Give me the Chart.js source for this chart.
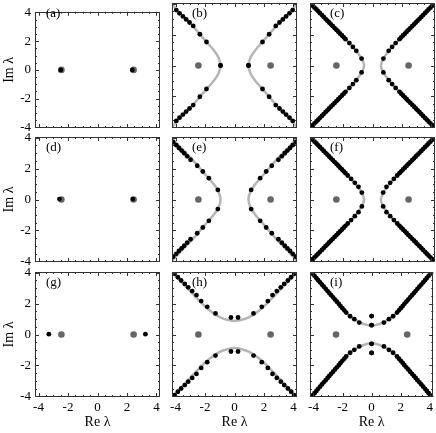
<!DOCTYPE html>
<html lang="en">
<head>
<meta charset="UTF-8">
<title>Spectra (a)-(i)</title>
<style>
  body { margin: 0; background: #fff; }
  #wrap { position: relative; width: 436px; height: 433px; overflow: hidden; }
  #wrap canvas { position: absolute; left: 0; top: 0; }
  .tag { position: absolute; font: 13px "Liberation Serif", serif; line-height: 15px; color: #000; }
</style>
</head>
<body>
<div id="wrap"></div>
<script src="https://cdn.jsdelivr.net/npm/chart.js"></script>
<script>
// grey dots, same in every panel
const greyRe = [-2.45, 2.45];
const greyIm = [0, 0];

// (a), (d), (g): isolated points
const aRe = [-2.5, 2.36];
const aIm = [0, 0];
const dRe = [-2.58, 2.4];
const dIm = [0.03, 0.03];
const gRe = [-3.3, 3.25];
const gIm = [0.02, 0.02];

// the other panels: one quadrant (|Re|, |Im|), the spectrum is symmetric
const bRe = [3.95, 3.73, 3.5, 3.28, 3.05, 2.8, 2.35, 1.9, 0.95];
const bIm = [3.58, 3.37, 3.17, 2.98, 2.78, 2.56, 2.02, 1.52, 0];
const cRe = [4.17, 4.05, 3.93, 3.8, 3.68, 3.56, 3.43, 3.31, 3.19, 3.06, 2.94, 2.82, 2.69, 2.57, 2.44, 2.32, 2.2, 2.07, 1.95, 1.83, 1.57, 1.33, 1.1, 0.74];
const cIm = [3.98, 3.86, 3.74, 3.62, 3.5, 3.38, 3.26, 3.14, 3.02, 2.9, 2.78, 2.66, 2.54, 2.42, 2.3, 2.18, 2.06, 1.94, 1.82, 1.7, 1.45, 1.2, 0.95, 0.45];
const eRe = [4.16, 3.95, 3.77, 3.59, 3.41, 3.21, 2.98, 2.53, 2.15, 1.74, 1.13];
const eIm = [3.7, 3.51, 3.33, 3.16, 2.99, 2.79, 2.57, 2.18, 1.81, 1.38, 0.62];
const fRe = [4.17, 4.05, 3.93, 3.8, 3.68, 3.56, 3.43, 3.31, 3.19, 3.06, 2.94, 2.82, 2.69, 2.57, 2.44, 2.32, 2.2, 2.07, 1.95, 1.83, 1.68, 1.45, 1.2, 0.95, 0.72];
const fIm = [3.98, 3.86, 3.74, 3.62, 3.5, 3.38, 3.26, 3.14, 3.02, 2.9, 2.78, 2.66, 2.54, 2.42, 2.3, 2.18, 2.06, 1.94, 1.82, 1.7, 1.55, 1.33, 1.08, 0.82, 0.45];
const hRe = [4.05, 3.84, 3.62, 3.37, 3.14, 2.87, 2.58, 2.26, 1.85, 1.29, 0.24];
const hIm = [3.92, 3.7, 3.49, 3.27, 3.05, 2.81, 2.55, 2.16, 1.79, 1.36, 1.1];
const iRe = [4.19, 4.06, 3.93, 3.8, 3.68, 3.55, 3.42, 3.29, 3.16, 3.03, 2.91, 2.78, 2.65, 2.52, 2.39, 2.26, 2.14, 2.01, 1.88, 1.75, 1.48, 1.19, 0.85, 0, 0];
const iIm = [4.07, 3.93, 3.79, 3.65, 3.51, 3.37, 3.23, 3.09, 2.95, 2.81, 2.68, 2.54, 2.4, 2.26, 2.12, 1.98, 1.84, 1.7, 1.56, 1.42, 1.18, 0.99, 0.77, 0.6, 1.19];

// grey continuous curves, half branch (|Re|, |Im|)
const curveBRe = [0.95, 1.08, 1.42, 1.88, 2.33, 2.78, 3.28, 3.8, 4.35];
const curveBIm = [0, 0.5, 1, 1.5, 2, 2.5, 3, 3.5, 4.1];
const curveCRe = [0.57, 0.78, 1.15, 1.62, 2.13, 2.65, 3.18, 3.71, 4.3];
const curveCIm = [0, 0.5, 1, 1.5, 2, 2.5, 3, 3.5, 4.1];
const curveHRe = [0, 0.5, 1, 1.5, 2, 2.5, 3, 3.5, 4.3];
const curveHIm = [0.88, 0.95, 1.12, 1.42, 1.82, 2.3, 2.8, 3.3, 4.1];
const curveIRe = [0, 0.5, 1, 1.5, 2, 2.5, 3, 3.5, 4.3];
const curveIIm = [0.57, 0.66, 0.88, 1.2, 1.68, 2.22, 2.78, 3.34, 4.19];

const xTicks = [-4, -2, 0, 2, 4];
const yTicks = [-4, -2, 0, 2, 4];

// layout of the 3x3 grid
const colLeft = [35, 172, 310];
const rowTop = [3, 137, 272];
const W = 125, H = 125;
const tagDx = [11, 20, 20];

function pts(re, im) { return re.map((r, i) => ({x: r, y: im[i]})); }
function mirror(re, im) {
  const out = [];
  re.forEach((r, i) => {
    out.push({x: -r, y: im[i]}, {x: -r, y: -im[i]}, {x: r, y: im[i]}, {x: r, y: -im[i]});
  });
  return out;
}
// branches opening left and right
function sideBranches(re, im) {
  const l = [], r = [];
  for (let i = re.length - 1; i >= 0; i--) { l.push({x: -re[i], y: -im[i]}); r.push({x: re[i], y: -im[i]}); }
  for (let i = 1; i < re.length; i++) { l.push({x: -re[i], y: im[i]}); r.push({x: re[i], y: im[i]}); }
  return [l, r];
}
// branches opening up and down
function upDownBranches(re, im) {
  const u = [], d = [];
  for (let i = re.length - 1; i >= 0; i--) { u.push({x: -re[i], y: im[i]}); d.push({x: -re[i], y: -im[i]}); }
  for (let i = 1; i < re.length; i++) { u.push({x: re[i], y: im[i]}); d.push({x: re[i], y: -im[i]}); }
  return [u, d];
}

const panels = [
  {tag: '(a)', black: pts(aRe, aIm), curves: []},
  {tag: '(b)', black: mirror(bRe, bIm), curves: sideBranches(curveBRe, curveBIm)},
  {tag: '(c)', black: mirror(cRe, cIm), curves: sideBranches(curveCRe, curveCIm)},
  {tag: '(d)', black: pts(dRe, dIm), curves: []},
  {tag: '(e)', black: mirror(eRe, eIm), curves: sideBranches(curveBRe, curveBIm)},
  {tag: '(f)', black: mirror(fRe, fIm), curves: sideBranches(curveCRe, curveCIm)},
  {tag: '(g)', black: pts(gRe, gIm), curves: []},
  {tag: '(h)', black: mirror(hRe, hIm), curves: upDownBranches(curveHRe, curveHIm)},
  {tag: '(i)', black: mirror(iRe, iIm), curves: upDownBranches(curveIRe, curveIIm)}
];

// frame with inward ticks on all four sides
const framePlugin = {
  id: 'frame',
  afterDatasetsDraw(chart) {
    const {ctx, chartArea: a, scales: {x, y}} = chart;
    ctx.save();
    ctx.strokeStyle = '#333';
    ctx.lineWidth = 1;
    ctx.beginPath();
    for (let v = -4; v <= 4; v += 0.5) {
      const len = v % 2 === 0 ? 4 : 2;
      const px = Math.round(x.getPixelForValue(v)) + 0.5;
      ctx.moveTo(px, a.bottom); ctx.lineTo(px, a.bottom - len);
      ctx.moveTo(px, a.top); ctx.lineTo(px, a.top + len);
      const py = Math.round(y.getPixelForValue(v)) + 0.5;
      ctx.moveTo(a.left, py); ctx.lineTo(a.left + len, py);
      ctx.moveTo(a.right, py); ctx.lineTo(a.right - len, py);
    }
    ctx.stroke();
    ctx.strokeRect(Math.round(a.left) + 0.5, Math.round(a.top) + 0.5,
                   Math.round(a.right - a.left) - 1, Math.round(a.bottom - a.top) - 1);
    ctx.restore();
  }
};

const wrap = document.getElementById('wrap');
const font = {family: '"Liberation Serif", serif', size: 13};

panels.forEach((p, k) => {
  const row = Math.floor(k / 3), col = k % 3;
  const canvas = document.createElement('canvas');
  canvas.width = 436; canvas.height = 433;
  wrap.appendChild(canvas);

  const tag = document.createElement('span');
  tag.className = 'tag';
  tag.textContent = p.tag;
  tag.style.left = (colLeft[col] + tagDx[col]) + 'px';
  tag.style.top = (rowTop[row] + 2) + 'px';
  wrap.appendChild(tag);

  const showY = col === 0, showX = row === 2;
  const datasets = [];
  p.curves.forEach(c => datasets.push({
    data: c, showLine: true, pointRadius: 0, borderColor: '#b5b5b5',
    borderWidth: 2.5, tension: 0.4, order: 3
  }));
  datasets.push({data: pts(greyRe, greyIm), pointRadius: 3.3, backgroundColor: '#666', borderWidth: 0, order: 2});
  datasets.push({data: p.black, pointRadius: 2.4, backgroundColor: '#000', borderWidth: 0, order: 1});

  new Chart(canvas.getContext('2d'), {
    type: 'scatter',
    data: {datasets},
    plugins: [framePlugin],
    options: {
      responsive: false,
      animation: false,
      events: [],
      layout: {
        autoPadding: false,
        padding: {
          left: colLeft[col] - (showY ? 35 : 0),
          right: 436 - colLeft[col] - W,
          top: rowTop[row],
          bottom: 433 - rowTop[row] - H - (showX ? 36 : 0)
        }
      },
      plugins: {legend: {display: false}, tooltip: {enabled: false}},
      scales: {
        x: {
          type: 'linear', min: -4.24, max: 4.24, display: showX,
          afterFit: s => { s.height = showX ? 36 : 0; },
          afterBuildTicks: s => { s.ticks = xTicks.map(v => ({value: v})); },
          grid: {display: false, drawTicks: false},
          border: {display: false},
          ticks: {font, color: '#000', padding: 3, maxRotation: 0, autoSkip: false},
          title: {display: true, text: 'Re λ', font: {family: font.family, size: 14}, color: '#000', padding: {top: 0, bottom: 2}}
        },
        y: {
          type: 'linear', min: -4.04, max: 4.04, display: showY,
          afterFit: s => { s.width = showY ? 35 : 0; },
          afterBuildTicks: s => { s.ticks = yTicks.map(v => ({value: v})); },
          grid: {display: false, drawTicks: false},
          border: {display: false},
          ticks: {font, color: '#000', padding: 4, autoSkip: false},
          title: {display: true, text: 'Im λ', font: {family: font.family, size: 14}, color: '#000', padding: {top: 1, bottom: 0}}
        }
      }
    }
  });
});
</script>
</body>
</html>
